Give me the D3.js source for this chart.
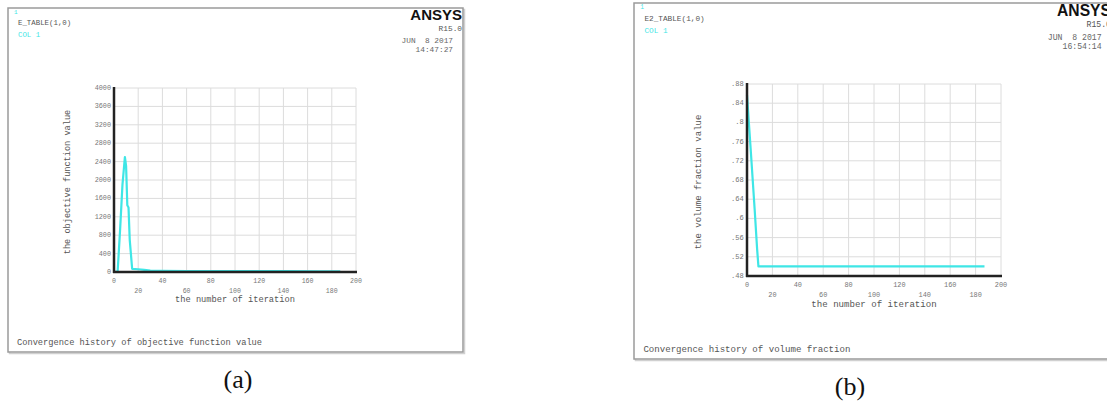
<!DOCTYPE html>
<html><head><meta charset="utf-8">
<script src="https://cdn.jsdelivr.net/npm/d3@7"></script>
<style>body{margin:0;background:#fff}svg{display:block}</style>
</head><body>
<svg id="c" width="1107" height="403"></svg>
<script>
// ---- data ----
// objective function value per optimisation iteration
const objIter  = [0, 3, 5, 7, 9, 10, 11, 12, 13, 15, 20, 25, 30, 40, 60, 100, 140, 170, 187];
const objValue = [0, 10, 900, 1900, 2500, 2300, 1450, 1400, 700, 70, 60, 45, 30, 25, 20, 20, 18, 15, 12];
// volume fraction per optimisation iteration
const volIter  = [0, 3, 6, 8, 9, 187];
const volValue = [0.857, 0.74, 0.62, 0.535, 0.50, 0.50];

const xTicks = [0, 20, 40, 60, 80, 100, 120, 140, 160, 180, 200];
const objTicks = [0, 400, 800, 1200, 1600, 2000, 2400, 2800, 3200, 3600, 4000];
const objTickLabels = ["0", "400", "800", "1200", "1600", "2000", "2400", "2800", "3200", "3600", "4000"];
const volTicks = [0.48, 0.52, 0.56, 0.60, 0.64, 0.68, 0.72, 0.76, 0.80, 0.84, 0.88];
const volTickLabels = [".48", ".52", ".56", ".6", ".64", ".68", ".72", ".76", ".8", ".84", ".88"];

const panels = [
  {
    iter: objIter, value: objValue, ticks: objTicks, tickLabels: objTickLabels,
    table: "E_TABLE(1,0)", legend: "COL 1", date: "JUN  8 2017", time: "14:47:27",
    yTitle: "the objective function value",
    footer: "Convergence history of objective function value", caption: "(a)",
    frame: {x: 8, y: 8, w: 455, h: 344},
    plot: {x0: 114, x1: 356, y0: 88, y1: 272},
    s: 1, capX: 238, capY: 388
  },
  {
    iter: volIter, value: volValue, ticks: volTicks, tickLabels: volTickLabels,
    table: "E2_TABLE(1,0)", legend: "COL 1", date: "JUN  8 2017", time: "16:54:14",
    yTitle: "the volume fraction value",
    footer: "Convergence history of volume fraction", caption: "(b)",
    frame: {x: 634, y: 3, w: 478, h: 356},
    plot: {x0: 747, x1: 1001, y0: 84, y1: 276},
    s: 1.045, capX: 850, capY: 395
  }
];

const svg = d3.select("#c");
const mono = "'Liberation Mono', 'DejaVu Sans Mono', monospace";
const textGrey = "#777";
const cyan = "#3fe6e6";

panels.forEach(p => {
  const g = svg.append("g");
  const f = p.frame, s = p.s;

  // window frame
  g.append("rect")
    .attr("x", f.x + 1.5).attr("y", f.y + 1.5).attr("width", f.w).attr("height", f.h)
    .attr("fill", "none").attr("stroke", "#d0d0d0").attr("stroke-width", 1.5);
  g.append("rect")
    .attr("x", f.x).attr("y", f.y).attr("width", f.w).attr("height", f.h)
    .attr("fill", "#fff").attr("stroke", "#9a9a9a").attr("stroke-width", 1.5);

  // header texts
  g.append("text").attr("x", f.x + 6 * s).attr("y", f.y + 6 * s)
    .attr("font-family", mono).attr("font-size", 6 * s).attr("fill", cyan).text("1");
  g.append("text").attr("x", f.x + 10 * s).attr("y", f.y + 17 * s)
    .attr("font-family", mono).attr("font-size", 7.4 * s).attr("fill", "#555").text(p.table);
  g.append("text").attr("x", f.x + 10 * s).attr("y", f.y + 29 * s)
    .attr("font-family", mono).attr("font-size", 7.4 * s).attr("fill", cyan)
    .attr("xml:space", "preserve").text(p.legend);

  const right = f.x + f.w - 1;
  g.append("text").attr("x", right).attr("y", f.y + 12 * s).attr("text-anchor", "end")
    .attr("font-family", "'Liberation Sans Narrow', 'Liberation Sans', Arial, sans-serif")
    .attr("font-weight", "bold")
    .attr("font-size", 15 * s).attr("fill", "#111").text("ANSYS");
  g.append("text").attr("x", right).attr("y", f.y + 23 * s).attr("text-anchor", "end")
    .attr("font-family", mono).attr("font-size", 7.8 * s).attr("fill", "#555").text("R15.0");
  g.append("text").attr("x", right - 9 * s).attr("y", f.y + 35 * s).attr("text-anchor", "end")
    .attr("font-family", mono).attr("font-size", 7.8 * s).attr("fill", "#666")
    .attr("xml:space", "preserve").text(p.date);
  g.append("text").attr("x", right - 9 * s).attr("y", f.y + 44 * s).attr("text-anchor", "end")
    .attr("font-family", mono).attr("font-size", 7.8 * s).attr("fill", "#666").text(p.time);

  // scales
  const x = d3.scaleLinear().domain([0, 200]).range([p.plot.x0, p.plot.x1]);
  const y = d3.scaleLinear().domain([p.ticks[0], p.ticks[p.ticks.length - 1]])
    .range([p.plot.y1, p.plot.y0]);

  // grid
  g.append("g").selectAll("line").data(xTicks.slice(1)).join("line")
    .attr("x1", d => x(d)).attr("x2", d => x(d))
    .attr("y1", p.plot.y0).attr("y2", p.plot.y1)
    .attr("stroke", "#dcdcdc").attr("stroke-width", 1);
  g.append("g").selectAll("line").data(p.ticks.slice(1)).join("line")
    .attr("x1", p.plot.x0).attr("x2", p.plot.x1)
    .attr("y1", d => y(d)).attr("y2", d => y(d))
    .attr("stroke", "#dcdcdc").attr("stroke-width", 1);

  // y tick labels
  g.append("g").selectAll("text").data(p.ticks).join("text")
    .attr("x", p.plot.x0 - 3 * s).attr("y", d => y(d) + 2 * s)
    .attr("text-anchor", "end").attr("font-family", mono)
    .attr("font-size", 6.8 * s).attr("fill", textGrey)
    .text((d, i) => p.tickLabels[i]);

  // x tick labels, alternating rows
  g.append("g").selectAll("text").data(xTicks).join("text")
    .attr("x", d => x(d))
    .attr("y", (d, i) => p.plot.y1 + (i % 2 === 0 ? 11 : 20.5) * s)
    .attr("text-anchor", "middle").attr("font-family", mono)
    .attr("font-size", 6.6 * s).attr("fill", textGrey)
    .text(d => d);

  // axis titles
  g.append("text").attr("x", (p.plot.x0 + p.plot.x1) / 2).attr("y", p.plot.y1 + 30 * s)
    .attr("text-anchor", "middle").attr("font-family", mono)
    .attr("font-size", 8.7 * s).attr("fill", "#555").text("the number of iteration");
  g.append("text")
    .attr("transform", `translate(${p.plot.x0 - 44 * s},${(p.plot.y0 + p.plot.y1) / 2 + 2}) rotate(-90)`)
    .attr("text-anchor", "middle").attr("font-family", mono)
    .attr("font-size", 8.6 * s).attr("fill", "#555").text(p.yTitle);

  // data curve
  const pts = p.iter.map((it, i) => [it, p.value[i]]);
  g.append("path").datum(pts)
    .attr("d", d3.line().x(d => x(d[0])).y(d => y(d[1])))
    .attr("fill", "none").attr("stroke", cyan).attr("stroke-width", 2.2)
    .attr("stroke-linejoin", "round");

  // axes
  g.append("line").attr("x1", p.plot.x0).attr("x2", p.plot.x0)
    .attr("y1", p.plot.y0 - 1).attr("y2", p.plot.y1 + 1)
    .attr("stroke", "#222").attr("stroke-width", 2.5);
  g.append("line").attr("x1", p.plot.x0 - 1).attr("x2", p.plot.x1 + 1)
    .attr("y1", p.plot.y1).attr("y2", p.plot.y1)
    .attr("stroke", "#222").attr("stroke-width", 2.5);

  // footer
  g.append("text").attr("x", f.x + 9 * s).attr("y", f.y + f.h - 7 * s)
    .attr("font-family", mono).attr("font-size", 8.7 * s).attr("fill", "#555").text(p.footer);

  // caption below the window
  svg.append("text").attr("x", p.capX).attr("y", p.capY).attr("text-anchor", "middle")
    .attr("font-family", "'Liberation Serif', 'Times New Roman', serif")
    .attr("font-size", 26).attr("fill", "#111").text(p.caption);
});
</script>
</body></html>
